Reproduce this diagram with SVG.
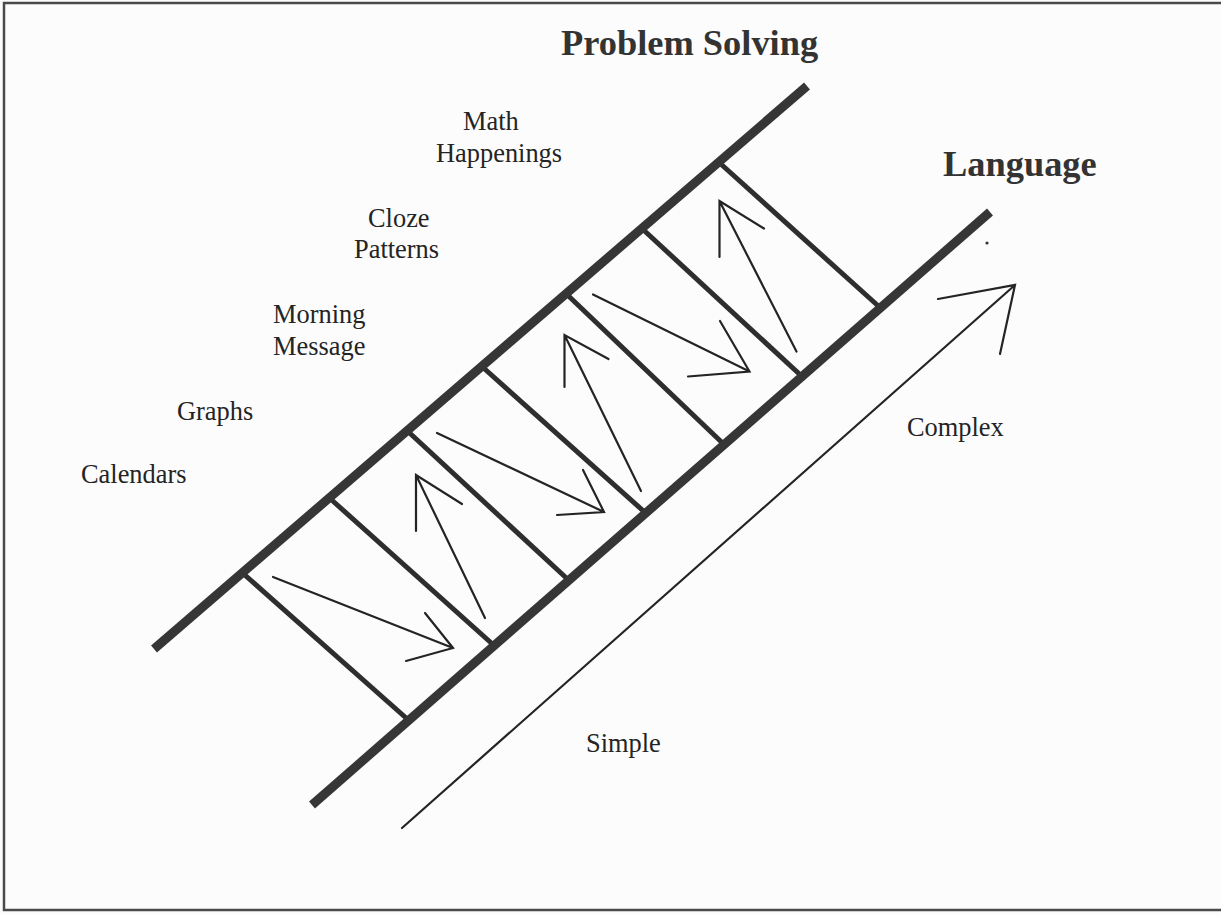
<svg xmlns="http://www.w3.org/2000/svg" width="1221" height="915" viewBox="0 0 1221 915">
  <style>
    .rail { stroke: #363636; stroke-width: 9; fill: none; stroke-linecap: butt; }
    .rung { stroke: #2e2e2e; stroke-width: 5; fill: none; }
    .arr { stroke: #242424; stroke-width: 2.2; fill: none; stroke-linecap: round; stroke-linejoin: miter; }
    .lbl { font-family: "Liberation Serif", "Times New Roman", serif; font-size: 26.4px; fill: #242424; }
    .ttl { font-family: "Liberation Serif", "Times New Roman", serif; font-size: 36.4px; font-weight: bold; fill: #333333; }
  </style>
  <rect x="0" y="0" width="1221" height="915" fill="#fcfcfc"/>
  <path d="M1221,3 H4 V910 H1221" fill="none" stroke="#4a4a4a" stroke-width="2.5"/>

  <g id="ladder">
    <g id="rungs">
      <line class="rung" x1="242.5" y1="573" x2="409.5" y2="721"/>
      <line class="rung" x1="329.5" y1="498" x2="493.5" y2="645"/>
      <line class="rung" x1="407.5" y1="431" x2="568.5" y2="580"/>
      <line class="rung" x1="482.5" y1="367" x2="644.5" y2="512"/>
      <line class="rung" x1="567.5" y1="295" x2="722.5" y2="443"/>
      <line class="rung" x1="642.5" y1="229" x2="801.5" y2="376"/>
      <line class="rung" x1="717.5" y1="161" x2="880.5" y2="308"/>
    </g>
    <line id="rail-upper" class="rail" x1="154" y1="649" x2="807" y2="86"/>
    <line id="rail-lower" class="rail" x1="312" y1="805" x2="990" y2="212"/>
  </g>

  <g id="connectors">
    <path class="arr" d="M273,577 L453,648 M406,661 L453,648 L425,613"/>
    <path class="arr" d="M485,618 L416,475 M416,531 L416,475 L462,504"/>
    <path class="arr" d="M437,433 L604,512 M557,515 L604,512 L583,470"/>
    <path class="arr" d="M641,491 L564.5,335 M564.5,387 L564.5,335 L608.5,359"/>
    <path class="arr" d="M593,294.5 L749.5,371.5 M688,376.5 L749.5,371.5 L720,321"/>
    <path class="arr" d="M796.5,351.5 L719.5,201 M719.5,257 L719.5,201 L764,228.5"/>
    <path id="simple-complex" class="arr" d="M402,828 L1015,285 M938,299 L1015,285 L1000,354"/>
  </g>
  <circle cx="987" cy="243" r="1.6" fill="#333"/>

  <g id="title-problem-solving"><text class="ttl" x="561" y="55">Problem Solving</text></g>
  <g id="title-language"><text class="ttl" x="943" y="176">Language</text></g>
  <g id="node-math-happenings">
    <text class="lbl" x="463" y="130">Math</text>
    <text class="lbl" x="436" y="162">Happenings</text>
  </g>
  <g id="node-cloze-patterns">
    <text class="lbl" x="368" y="227">Cloze</text>
    <text class="lbl" x="354" y="258">Patterns</text>
  </g>
  <g id="node-morning-message">
    <text class="lbl" x="273" y="323">Morning</text>
    <text class="lbl" x="273" y="355">Message</text>
  </g>
  <g id="node-graphs"><text class="lbl" x="177" y="420">Graphs</text></g>
  <g id="node-calendars"><text class="lbl" x="81" y="483">Calendars</text></g>
  <g id="label-complex"><text class="lbl" x="907" y="436">Complex</text></g>
  <g id="label-simple"><text class="lbl" x="586" y="752">Simple</text></g>
</svg>
